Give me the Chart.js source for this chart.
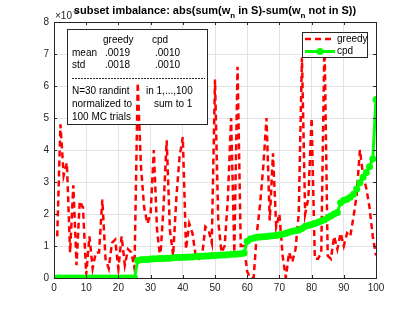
<!DOCTYPE html>
<html>
<head>
<meta charset="utf-8">
<script src="https://cdn.jsdelivr.net/npm/chart.js@4.4.1/dist/chart.umd.min.js"></script>
<style>
  html, body { margin: 0; padding: 0; background: #fff; }
  #c { display: block; }
</style>
</head>
<body>
<canvas id="c" width="415" height="312"></canvas>
<script>
// values are in units of 1e-3
const greedy = [
  1.3, 4.8, 3.2, 3.6, 0.8, 2.9, 0.4, 2.4, 2.2, 0.1,
  1.3, 0.3, 0.8, 0.8, 2.45, 0.6, 0.3, 1.1, 1.2, 0.3,
  1.3, 0.4, 0.9, 0.8, 0.3, 6.1, 3.5, 2.2, 1.7, 2.0,
  4.0, 1.5, 0.6, 2.2, 4.3, 1.5, 0.7, 2.5, 3.8, 4.4,
  0.9, 1.7, 1.4, 0.7, 0.6, 0.7, 1.6, 1.5, 1.1, 6.2,
  1.8, 0.8, 1.0, 2.5, 5.0, 0.8, 6.6, 1.0, 1.0, 0.2,
  0.0, 0.0, 1.4, 2.3, 3.5, 5.0, 1.8, 3.9, 1.6, 2.0,
  0.7, 0.0, 0.8, 0.5, 0.9, 2.0, 6.9, 2.0, 2.5, 5.0,
  0.6, 0.6, 0.8, 7.5, 0.7, 0.6, 1.3, 0.9, 1.4, 1.0,
  1.4, 1.3, 1.9, 2.6, 4.0, 3.2, 2.8, 2.2, 1.3, 0.7
];
const cpd = [
  0, 0, 0, 0, 0, 0, 0, 0, 0, 0,
  0, 0, 0, 0, 0, 0, 0, 0, 0, 0,
  0, 0, 0, 0, 0, 0.55, 0.57, 0.58, 0.58, 0.59,
  0.60, 0.60, 0.61, 0.61, 0.62, 0.62, 0.63, 0.64, 0.64, 0.65,
  0.65, 0.66, 0.66, 0.67, 0.68, 0.68, 0.69, 0.69, 0.70, 0.70,
  0.71, 0.72, 0.72, 0.73, 0.74, 0.74, 0.75, 0.76, 0.78, 1.15,
  1.22, 1.25, 1.27, 1.28, 1.29, 1.30, 1.31, 1.32, 1.33, 1.35,
  1.37, 1.40, 1.43, 1.46, 1.48, 1.50, 1.55, 1.62, 1.64, 1.67,
  1.70, 1.74, 1.78, 1.82, 1.88, 1.94, 2.00, 2.05, 2.35, 2.43,
  2.46, 2.52, 2.62, 2.78, 2.98, 3.15, 3.30, 3.48, 3.72, 5.58
];
const trials = greedy.map((_, i) => i + 1);
const xTicks = [0, 10, 20, 30, 40, 50, 60, 70, 80, 90, 100];
const yTicks = [0, 1, 2, 3, 4, 5, 6, 7, 8];
const statRows = [['mean', '.0019', '.0010'], ['std', '.0018', '.0010']];
const noteLines = [['N=30 randint', 'in 1,...,100'], ['normalized to', 'sum to 1'], ['100 MC trials', '']];

const FONT = '"Liberation Sans", Arial, Helvetica, sans-serif';
const AX = '#262626';
Chart.defaults.font.family = FONT;

// box, ticks, title, legend and the stats text box
const decor = {
  id: 'decor',
  beforeDatasetsDraw(chart) {
    const ctx = chart.ctx;
    ctx.save();
    // stats box
    ctx.fillStyle = '#fff';
    ctx.fillRect(67.5, 29.5, 140, 95);
    ctx.strokeStyle = AX;
    ctx.lineWidth = 1;
    ctx.strokeRect(67.5, 29.5, 140, 95);
    ctx.fillStyle = '#000';
    ctx.font = '10px ' + FONT;
    ctx.textBaseline = 'middle';
    ctx.fillText('greedy', 103, 40);
    ctx.fillText('cpd', 152, 40);
    statRows.forEach((r, k) => {
      const y = 53 + k * 12;
      ctx.fillText(r[0], 72, y);
      ctx.fillText(r[1], 105, y);
      ctx.fillText(r[2], 155, y);
    });
    ctx.setLineDash([2, 1]);
    ctx.beginPath();
    ctx.moveTo(72, 78.5);
    ctx.lineTo(205, 78.5);
    ctx.stroke();
    ctx.setLineDash([]);
    noteLines.forEach((r, k) => {
      const y = 91 + k * 13;
      ctx.fillText(r[0], 72, y);
      ctx.fillText(r[1], k === 0 ? 146 : 154, y);
    });
    ctx.restore();
  },
  afterDraw(chart) {
    const ctx = chart.ctx;
    const a = chart.chartArea;
    const xs = chart.scales.x, ys = chart.scales.y;
    ctx.save();
    // axes box and inward ticks
    ctx.strokeStyle = AX;
    ctx.lineWidth = 1;
    ctx.strokeRect(Math.round(a.left) + 0.5, Math.round(a.top) + 0.5,
      Math.round(a.right - a.left), Math.round(a.bottom - a.top));
    ctx.beginPath();
    xTicks.forEach(t => {
      const x = Math.round(xs.getPixelForValue(t)) + 0.5;
      ctx.moveTo(x, a.bottom); ctx.lineTo(x, a.bottom - 3);
      ctx.moveTo(x, a.top); ctx.lineTo(x, a.top + 3);
    });
    yTicks.forEach(t => {
      const y = Math.round(ys.getPixelForValue(t)) + 0.5;
      ctx.moveTo(a.left, y); ctx.lineTo(a.left + 3, y);
      ctx.moveTo(a.right, y); ctx.lineTo(a.right - 3, y);
    });
    ctx.stroke();

    // exponent label
    ctx.fillStyle = AX;
    ctx.textBaseline = 'alphabetic';
    ctx.font = '10px ' + FONT;
    ctx.fillText('\u00d710', 55, 19);
    ctx.font = '7px ' + FONT;
    ctx.fillText('-3', 73, 13);

    // title with subscripts
    const parts = [
      ['subset imbalance: abs(sum(w', 0], ['n', 1], [' in S)-sum(w', 0], ['n', 1], [' not in S))', 0]
    ];
    const big = 'bold 11px ' + FONT, small = 'bold 8px ' + FONT;
    let w = 0;
    parts.forEach(p => { ctx.font = p[1] ? small : big; w += ctx.measureText(p[0]).width; });
    let x = (a.left + a.right) / 2 - w / 2;
    ctx.fillStyle = '#000';
    parts.forEach(p => {
      ctx.font = p[1] ? small : big;
      ctx.fillText(p[0], x, p[1] ? 18 : 14);
      x += ctx.measureText(p[0]).width;
    });

    // legend
    ctx.fillStyle = '#fff';
    ctx.fillRect(302.5, 32.5, 65, 25);
    ctx.strokeStyle = AX;
    ctx.strokeRect(302.5, 32.5, 65, 25);
    ctx.strokeStyle = '#ff0000';
    ctx.lineWidth = 2.5;
    ctx.setLineDash([6, 4]);
    ctx.beginPath();
    ctx.moveTo(305, 39); ctx.lineTo(335, 39);
    ctx.stroke();
    ctx.setLineDash([]);
    ctx.strokeStyle = '#00ff00';
    ctx.lineWidth = 3;
    ctx.beginPath();
    ctx.moveTo(305, 51.5); ctx.lineTo(335, 51.5);
    ctx.stroke();
    ctx.fillStyle = '#00ff00';
    ctx.beginPath();
    ctx.arc(320, 51.5, 3.5, 0, Math.PI * 2);
    ctx.fill();
    ctx.fillStyle = '#000';
    ctx.font = '10px ' + FONT;
    ctx.textBaseline = 'middle';
    ctx.fillText('greedy', 337, 39.5);
    ctx.fillText('cpd', 337, 51.5);
    ctx.restore();
  }
};

new Chart(document.getElementById('c'), {
  type: 'line',
  data: {
    datasets: [
      {
        label: 'cpd',
        data: trials.map((t, i) => ({ x: t, y: cpd[i] })),
        borderColor: '#00ff00',
        backgroundColor: '#00ff00',
        borderWidth: 3,
        pointRadius: 3.5,
        pointBorderWidth: 0,
        tension: 0,
        order: 0
      },
      {
        label: 'greedy',
        data: trials.map((t, i) => ({ x: t, y: greedy[i] })),
        borderColor: '#ff0000',
        borderWidth: 2.5,
        borderDash: [6, 4],
        pointRadius: 0,
        tension: 0,
        order: 1
      }
    ]
  },
  options: {
    responsive: false,
    animation: false,
    devicePixelRatio: 1,
    layout: { padding: { top: 22, right: 39, left: 0, bottom: 0 } },
    plugins: { legend: { display: false }, tooltip: { enabled: false } },
    scales: {
      x: {
        type: 'linear', min: 0, max: 100,
        afterFit: s => { s.height = 34; },
        afterBuildTicks: s => { s.ticks = xTicks.map(v => ({ value: v })); },
        grid: { color: '#e3e3e3', drawTicks: false },
        border: { display: false },
        ticks: { color: AX, font: { size: 10 }, padding: 4, maxRotation: 0 }
      },
      y: {
        min: 0, max: 8,
        afterFit: s => { s.width = 54; },
        afterBuildTicks: s => { s.ticks = yTicks.map(v => ({ value: v })); },
        grid: { color: '#e3e3e3', drawTicks: false },
        border: { display: false },
        ticks: { color: AX, font: { size: 10 }, padding: 5 }
      }
    }
  },
  plugins: [decor]
});
</script>
</body>
</html>
